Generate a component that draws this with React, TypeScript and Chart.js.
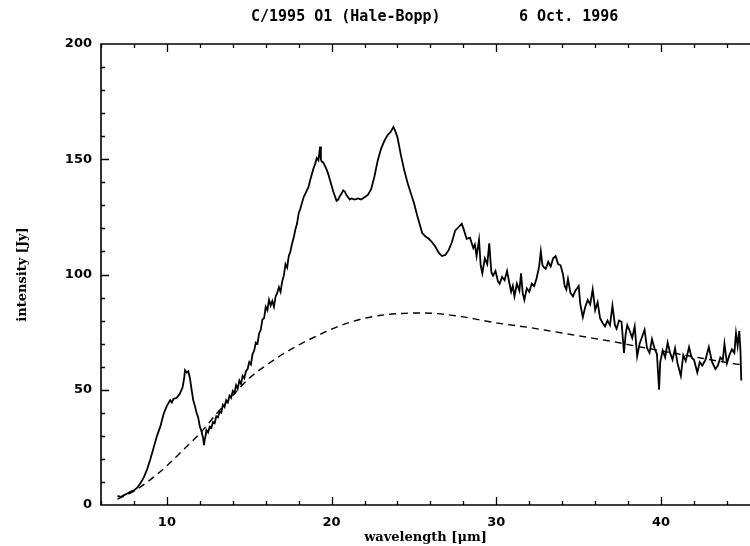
import React, { useEffect, useRef } from 'react';
import { Chart, registerables } from 'chart.js';

Chart.register(...registerables);

// Observed spectrum: wavelength (µm) and flux density (Jy)
const wavelength = [
  7.0, 7.2, 7.4, 7.6, 7.8, 8.0, 8.2, 8.4, 8.6, 8.8, 9.0, 9.2, 9.4, 9.6, 9.8,
  10.0, 10.2, 10.3, 10.4, 10.6, 10.8, 10.95, 11.05, 11.1, 11.2, 11.3, 11.4, 11.5, 11.6, 11.7,
  11.8, 11.9, 12.0, 12.1, 12.2, 12.25, 12.3, 12.35, 12.4, 12.5, 12.6, 12.7, 12.8, 12.9, 13.0,
  13.1, 13.2, 13.3, 13.4, 13.5, 13.6, 13.7, 13.8, 13.9, 14.0, 14.1, 14.2, 14.3, 14.4, 14.5,
  14.6, 14.7, 14.8, 14.9, 15.0, 15.1, 15.2, 15.3, 15.4, 15.5, 15.6, 15.7, 15.8, 15.9, 16.0,
  16.1, 16.2, 16.3, 16.4, 16.5, 16.6, 16.7, 16.8, 16.9, 17.0, 17.1, 17.2, 17.3, 17.4, 17.5,
  17.6, 17.7, 17.8, 17.9, 18.0, 18.1, 18.2, 18.3, 18.4, 18.5, 18.6, 18.7, 18.8, 18.9, 19.0,
  19.1, 19.2, 19.3, 19.35, 19.4, 19.5, 19.6, 19.7, 19.8, 19.9, 20.0, 20.1, 20.2, 20.3, 20.4,
  20.5, 20.6, 20.7, 20.8, 20.9, 21.0, 21.1, 21.2, 21.4, 21.6, 21.8, 22.0, 22.2, 22.4, 22.6,
  22.8, 23.0, 23.2, 23.4, 23.6, 23.75, 23.85, 24.0, 24.2, 24.4, 24.6, 24.8, 25.0, 25.2, 25.4,
  25.5, 25.7, 25.9, 26.1, 26.3, 26.5, 26.7, 26.9, 27.1, 27.3, 27.5, 27.7, 27.9, 28.0, 28.2,
  28.4, 28.6, 28.7, 28.8, 28.95, 29.05, 29.15, 29.3, 29.45, 29.57, 29.7, 29.8, 29.95, 30.1, 30.2,
  30.35, 30.5, 30.65, 30.8, 30.9, 31.0, 31.1, 31.25, 31.4, 31.5, 31.6, 31.7, 31.85, 32.0, 32.15,
  32.3, 32.45, 32.6, 32.7, 32.8, 32.9, 33.0, 33.15, 33.3, 33.45, 33.6, 33.75, 33.9, 34.05, 34.15,
  34.25, 34.35, 34.5, 34.65, 34.8, 35.0, 35.1, 35.25, 35.4, 35.55, 35.7, 35.85, 36.0, 36.15, 36.3,
  36.45, 36.6, 36.75, 36.9, 37.05, 37.2, 37.3, 37.45, 37.6, 37.75, 37.85, 37.95, 38.1, 38.25, 38.4,
  38.55, 38.7, 38.85, 39.0, 39.15, 39.3, 39.45, 39.6, 39.75, 39.88, 39.95, 40.1, 40.25, 40.4, 40.55,
  40.7, 40.85, 41.0, 41.2, 41.35, 41.5, 41.7, 41.85, 42.0, 42.2, 42.35, 42.5, 42.7, 42.9, 43.1,
  43.3, 43.45, 43.6, 43.75, 43.85, 44.0, 44.15, 44.3, 44.45, 44.55, 44.65, 44.75, 44.82, 44.87,
];

const flux = [
  4.0, 3.5, 4.3, 5.0, 5.8, 6.3, 7.5, 9.5, 12, 15.5, 20, 25, 30, 34, 39.5,
  43, 45.5, 44.5, 46, 46.5, 48.5, 51, 55, 58.5, 57.5, 58, 55, 50, 45.5, 43,
  40, 38, 34, 32, 29, 26, 28.5, 30, 32.5, 31.5, 34, 33.5, 36, 35.5, 38.5,
  38, 40.5, 40, 43.5, 42.5, 45.5, 44.5, 47.5, 46.5, 49.5, 48.5, 52, 50.5, 54, 52.5,
  56, 55, 58, 59, 62, 61, 65.5, 67, 70.5, 70, 74.5, 76, 80.5, 81, 86,
  84.5, 89, 86.5, 88.5, 86, 90.5, 92, 94.5, 92.5, 97, 99.5, 104.5, 103, 108, 110,
  113.5, 116, 119.5, 122, 126.5, 128.5, 131, 133.5, 135, 136.5, 138, 141, 143.5, 146, 148,
  150.5, 149.5, 155.5, 150, 149, 148.5, 147, 145.5, 143.5, 141, 138.5, 136, 134, 132, 132.5,
  134, 135, 136.5, 136, 134.5, 133.5, 132.5, 133, 132.5, 133, 132.5, 133.5, 134.5, 137, 142.5,
  149.5, 154.5, 158, 160.5, 162, 164, 162.5, 159.5, 152, 145.5, 140, 135.5, 131, 125.5, 120.5,
  118, 116.5, 115.5, 114, 112, 109.5, 108, 108.5, 110.5, 114, 119, 120.5, 122, 120, 115.5,
  116, 111.5, 113, 108, 115, 104, 100.5, 107, 104.5, 113.5, 101, 99.5, 101.5, 97, 96,
  99, 97.5, 101.5, 96, 92.5, 95, 90.5, 96, 93, 100.5, 92, 89, 94, 92.5, 96,
  95, 98.5, 103.5, 110, 104, 103, 102.5, 105.5, 103.5, 107, 108, 104.5, 104, 100, 95,
  93.5, 98, 92, 90.5, 93, 95, 87, 81.5, 86, 89, 87, 93.5, 84.5, 88, 81,
  79, 77.5, 80, 78, 86.5, 78, 76.5, 80, 79.5, 66, 74, 78, 75.5, 72.5, 77.5,
  64.5, 70, 73, 76, 68, 66, 72, 68, 65.5, 50, 62, 67, 64, 70.5, 66,
  63, 68, 61.5, 56, 65, 62.5, 68.5, 64, 63, 57.5, 62, 60.5, 63, 68.5, 62,
  59, 60.5, 64, 63, 70, 61.5, 65, 67.5, 66, 74.5, 69, 75.5, 67, 54,
];

// Fitted continuum (dashed)
const continuumWavelength = [
  7.0, 8, 9, 10, 11, 12, 13, 14, 15, 16, 17, 18, 19, 20, 21, 22, 23, 24, 25, 26,
  27, 28, 29, 30, 31, 32, 33, 34, 35, 36, 37, 38, 39, 40, 41, 42, 43, 44, 44.9,
];
const continuumFlux = [
  2.5, 6, 11, 17, 24, 31, 39.5, 47.5, 55, 60.5, 65.3, 69.4, 73, 76.3, 79, 81, 82.3, 83, 83.3, 83.2,
  82.6, 81.6, 80.3, 79, 78, 77, 75.8, 74.6, 73.4, 72.2, 71, 69.6, 68.2, 66.9, 65.6, 64.3, 63, 61.8, 60.8,
];

const xMajorTicks = [10, 20, 30, 40];
const yMajorTicks = [0, 50, 100, 150, 200];
const xMinorStep = 2;
const yMinorStep = 10;

const titleObject = 'C/1995 O1 (Hale-Bopp)';
const titleDate = '6 Oct. 1996';

const labelFont = { family: '"DejaVu Sans"', weight: 'bold' as const, size: 13 };
const axisTitleFont = { family: '"DejaVu Serif"', weight: 'bold' as const, size: 13 };

// Frame with inward-pointing ticks on the bottom, top and left edges, plus the header line
const framePlugin = {
  id: 'frameTicks',
  afterDraw(chart: any) {
    const { ctx, chartArea, scales } = chart;
    const { left, right, top, bottom } = chartArea;
    const xs = scales.x;
    const ys = scales.y;
    ctx.save();
    ctx.strokeStyle = '#000';
    ctx.lineWidth = 1.6;
    ctx.beginPath();
    ctx.moveTo(right, top);
    ctx.lineTo(left, top);
    ctx.lineTo(left, bottom);
    ctx.lineTo(right, bottom);
    ctx.stroke();

    ctx.lineWidth = 1.3;
    ctx.beginPath();
    const xStart = Math.ceil(xs.min / xMinorStep) * xMinorStep;
    for (let v = xStart; v <= xs.max; v += xMinorStep) {
      const px = Math.round(xs.getPixelForValue(v)) + 0.5;
      const len = v % 10 === 0 ? 8 : 4;
      ctx.moveTo(px, bottom);
      ctx.lineTo(px, bottom - len);
      ctx.moveTo(px, top);
      ctx.lineTo(px, top + len);
    }
    for (let v = ys.min + yMinorStep; v < ys.max; v += yMinorStep) {
      const py = Math.round(ys.getPixelForValue(v)) + 0.5;
      const len = v % 50 === 0 ? 8 : 4;
      ctx.moveTo(left, py);
      ctx.lineTo(left + len, py);
    }
    ctx.stroke();

    ctx.fillStyle = '#000';
    ctx.font = 'bold 15px "DejaVu Sans Mono"';
    ctx.textBaseline = 'middle';
    ctx.textAlign = 'left';
    ctx.fillText(titleObject, 251, 17);
    ctx.fillText(titleDate, 519, 17);
    ctx.restore();
  },
};

export default function App() {
  const canvasRef = useRef<HTMLCanvasElement | null>(null);

  useEffect(() => {
    if (!canvasRef.current) return;
    const chart = new Chart(canvasRef.current, {
      type: 'line',
      data: {
        datasets: [
          {
            label: 'spectrum',
            data: wavelength.map((w, i) => ({ x: w, y: flux[i] })),
            borderColor: '#000',
            borderWidth: 1.8,
            pointRadius: 0,
            tension: 0,
            fill: false,
          },
          {
            label: 'continuum',
            data: continuumWavelength.map((w, i) => ({ x: w, y: continuumFlux[i] })),
            borderColor: '#000',
            borderWidth: 1.4,
            borderDash: [7, 5],
            pointRadius: 0,
            tension: 0.4,
            cubicInterpolationMode: 'monotone',
            fill: false,
          },
        ],
      },
      options: {
        animation: false,
        responsive: false,
        devicePixelRatio: 1,
        layout: { padding: { top: 44, left: 0, right: 0, bottom: 0 } },
        plugins: {
          legend: { display: false },
          title: { display: false },
          tooltip: { enabled: false },
        },
        scales: {
          x: {
            type: 'linear',
            min: 6,
            max: 45.4,
            grid: { display: false, drawTicks: false },
            border: { display: false },
            afterBuildTicks: (scale: any) => {
              scale.ticks = xMajorTicks.map((v) => ({ value: v }));
            },
            afterFit: (scale: any) => {
              scale.height = 41;
            },
            ticks: {
              color: '#000',
              font: labelFont,
              padding: 10,
              maxRotation: 0,
              autoSkip: false,
            },
            title: {
              display: true,
              text: 'wavelength [μm]',
              color: '#000',
              font: axisTitleFont,
              padding: { top: 0, bottom: 1 },
            },
          },
          y: {
            type: 'linear',
            min: 0,
            max: 200,
            grid: { display: false, drawTicks: false },
            border: { display: false },
            afterBuildTicks: (scale: any) => {
              scale.ticks = yMajorTicks.map((v) => ({ value: v }));
            },
            afterFit: (scale: any) => {
              scale.width = 101;
            },
            ticks: {
              color: '#000',
              font: labelFont,
              padding: 9,
            },
            title: {
              display: true,
              text: 'intensity [Jy]',
              color: '#000',
              font: axisTitleFont,
              padding: { top: 15, bottom: 0 },
            },
          },
        },
      },
      plugins: [framePlugin],
    });
    return () => chart.destroy();
  }, []);

  return (
    <div style={{ position: 'absolute', left: 0, top: 0, width: 750, height: 546, background: '#fff' }}>
      <canvas ref={canvasRef} width={750} height={546} style={{ display: 'block' }} />
    </div>
  );
}
